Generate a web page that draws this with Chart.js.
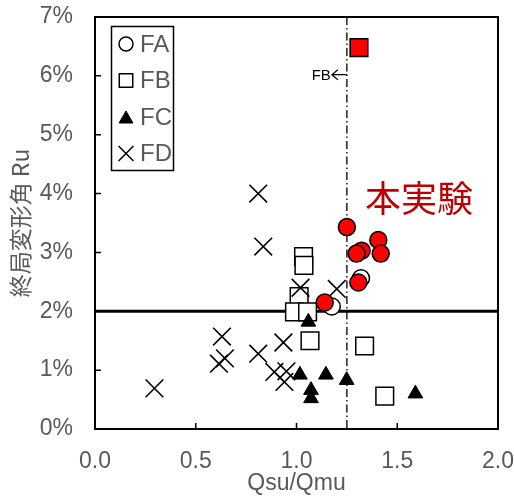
<!DOCTYPE html>
<html>
<head>
<meta charset="utf-8">
<script src="https://cdn.jsdelivr.net/npm/chart.js@4/dist/chart.umd.min.js"></script>
<style>
html,body{margin:0;padding:0;background:#fff;}
#wrap{width:514px;height:497px;position:relative;}
</style>
</head>
<body>
<div id="wrap"><canvas id="c" width="514" height="497"></canvas></div>
<script>
// ---- data ----
const xTicks = [0.0, 0.5, 1.0, 1.5, 2.0];
const yTicks = [0, 1, 2, 3, 4, 5, 6, 7];

const expCircleX = [1.25, 1.406, 1.323, 1.298, 1.418, 1.307, 1.14];
const expCircleY = [3.43, 3.21, 3.03, 2.98, 2.98, 2.49, 2.15];
const expSquareX = [1.31];
const expSquareY = [6.48];

const faX = [1.32, 1.175];
const faY = [2.56, 2.08];

const fbX = [1.035, 1.037, 1.013, 0.99, 1.055, 1.067, 1.338, 1.438];
const fbY = [2.93, 2.78, 2.25, 1.99, 1.99, 1.50, 1.41, 0.56];

const fcX = [1.059, 1.017, 1.146, 1.249, 1.072, 1.072, 1.59];
const fcY = [1.82, 0.92, 0.92, 0.83, 0.66, 0.52, 0.60];

const fdX = [0.81, 0.835, 1.02, 1.20, 0.63, 0.935, 0.81, 0.645, 0.615, 0.89, 0.95, 0.94, 0.295];
const fdY = [4.00, 3.10, 2.40, 2.38, 1.57, 1.47, 1.28, 1.20, 1.11, 0.97, 0.98, 0.80, 0.69];

const thresholdY = 2;      // horizontal reference line (%)
const thresholdX = 1.25;   // vertical dash-dot line (FB)
const legendNames = ['FA', 'FB', 'FC', 'FD'];

const pts = (xs, ys) => xs.map((x, i) => ({x: x, y: ys[i]}));

const GRAY = '#595959';
const FONT = "'Liberation Sans', Arial, 'DejaVu Sans', sans-serif";
const JFONT = "'Noto Sans CJK JP', 'Liberation Sans', sans-serif";

const styles = {
  FA: {pointStyle: 'circle', radius: 8.5, bg: '#ffffff', lw: 1.5},
  FB: {pointStyle: 'rect', radius: 12.5, bg: '#ffffff', lw: 1.5},
  FC: {pointStyle: 'triangle', radius: 8.5, bg: '#000000', lw: 1},
  FD: {pointStyle: 'crossRot', radius: 12.5, bg: '#000000', lw: 1.6}
};

function ds(label, data, st, order, bg) {
  return {
    label: label, data: data, order: order,
    pointStyle: st.pointStyle, pointRadius: st.radius, pointHoverRadius: st.radius,
    pointBackgroundColor: bg || st.bg, pointBorderColor: '#000000',
    pointBorderWidth: st.lw, showLine: false
  };
}

function zeroPad(s) { s.paddingTop = 0; s.paddingBottom = 0; s.paddingLeft = 0; s.paddingRight = 0; }

const overlay = {
  id: 'overlay',
  beforeDatasetsDraw(chart) {
    const {ctx, chartArea: a, scales: {x, y}} = chart;
    ctx.save();
    const py = y.getPixelForValue(thresholdY);
    ctx.strokeStyle = '#000'; ctx.lineWidth = 3;
    ctx.beginPath(); ctx.moveTo(a.left, py); ctx.lineTo(a.right, py); ctx.stroke();
    const px = x.getPixelForValue(thresholdX);
    ctx.lineWidth = 1.3; ctx.setLineDash([8, 3, 1.5, 3]);
    ctx.beginPath(); ctx.moveTo(px, a.top); ctx.lineTo(px, a.bottom); ctx.stroke();
    ctx.setLineDash([]);
    // "FB ←" annotation
    const ay = y.getPixelForValue(6.02);
    ctx.fillStyle = '#000';
    ctx.font = "15px 'Liberation Sans', sans-serif";
    ctx.textAlign = 'right'; ctx.textBaseline = 'middle';
    ctx.fillText('FB', px - 16, ay + 1);
    ctx.lineWidth = 1.2;
    ctx.beginPath();
    ctx.moveTo(px - 9, ay - 5); ctx.lineTo(px - 15, ay); ctx.lineTo(px - 9, ay + 5);
    ctx.moveTo(px - 15, ay); ctx.lineTo(px, ay);
    ctx.stroke();
    ctx.fillStyle = '#c00000';
    ctx.font = "36px " + JFONT;
    ctx.textAlign = 'left';
    ctx.fillText('本実験', x.getPixelForValue(1.34), y.getPixelForValue(3.92));
    ctx.restore();
  },
  afterDraw(chart) {
    const {ctx, chartArea: a, scales: {x, y}} = chart;
    ctx.save();
    ctx.strokeStyle = '#000'; ctx.lineWidth = 1.5;
    ctx.beginPath();
    xTicks.forEach(v => { const p = x.getPixelForValue(v); ctx.moveTo(p, a.bottom); ctx.lineTo(p, a.bottom - 6); });
    yTicks.forEach(v => { const p = y.getPixelForValue(v); ctx.moveTo(a.left, p); ctx.lineTo(a.left + 6, p); });
    ctx.stroke();
    ctx.lineWidth = 2;
    ctx.strokeRect(a.left, a.top, a.right - a.left, a.bottom - a.top);
    const bx = 111.5, by = 26.5, bw = 62, bh = 144;
    ctx.fillStyle = '#fff';
    ctx.fillRect(bx, by, bw, bh);
    ctx.lineWidth = 1.5;
    ctx.strokeRect(bx, by, bw, bh);
    const rows = [44, 80.5, 117, 153.5];
    const lg = {FA: 7, FB: 9.5, FC: 8, FD: 10.5};
    legendNames.forEach((n, i) => {
      const st = styles[n];
      ctx.fillStyle = st.bg; ctx.strokeStyle = '#000';
      ctx.lineWidth = n === 'FC' ? 1 : 1.5;
      Chart.helpers.drawPoint(ctx, {pointStyle: st.pointStyle, radius: lg[n], borderWidth: ctx.lineWidth}, 126, rows[i] + (n === 'FC' ? 2 : 0));
      ctx.fillStyle = GRAY;
      ctx.font = "24px " + FONT;
      ctx.textAlign = 'left'; ctx.textBaseline = 'middle';
      ctx.fillText(n, 140, rows[i] + 1);
    });
    ctx.restore();
  }
};

new Chart(document.getElementById('c'), {
  type: 'scatter',
  data: {
    datasets: [
      ds('本実験', pts(expCircleX, expCircleY), styles.FA, 0, '#ff0000'),
      ds('本実験 FB', pts(expSquareX, expSquareY), styles.FB, 0, '#ff0000'),
      ds('FC', pts(fcX, fcY), styles.FC, 1),
      ds('FD', pts(fdX, fdY), styles.FD, 2),
      ds('FA', pts(faX, faY), styles.FA, 3),
      ds('FB', pts(fbX, fbY), styles.FB, 4)
    ]
  },
  options: {
    responsive: false, animation: false, devicePixelRatio: 1,
    layout: {padding: {left: 0, right: 16, top: 17, bottom: 0}},
    plugins: {legend: {display: false}, tooltip: {enabled: false}},
    scales: {
      x: {
        type: 'linear', min: 0, max: 2,
        grid: {display: false, drawTicks: false}, border: {display: false},
        afterBuildTicks: s => { s.ticks = xTicks.map(v => ({value: v})); },
        afterFit: s => { s.height = 68; zeroPad(s); },
        ticks: {color: GRAY, font: {family: FONT, size: 23}, padding: 19, maxRotation: 0,
                callback: v => Number(v).toFixed(1)},
        title: {display: true, text: 'Qsu/Qmu', color: GRAY, font: {family: FONT, size: 23},
                padding: {top: 0, bottom: 0}}
      },
      y: {
        type: 'linear', min: 0, max: 7,
        grid: {display: false, drawTicks: false}, border: {display: false},
        afterBuildTicks: s => { s.ticks = yTicks.map(v => ({value: v})); },
        afterFit: s => { s.width = 95; zeroPad(s); },
        ticks: {color: GRAY, font: {family: FONT, size: 23}, padding: 22,
                callback: v => v + '%'},
        title: {display: true, text: '終局変形角 Ru', color: GRAY, font: {family: JFONT, size: 23},
                padding: {top: 6, bottom: 0}}
      }
    }
  },
  plugins: [overlay]
});
</script>
</body>
</html>
